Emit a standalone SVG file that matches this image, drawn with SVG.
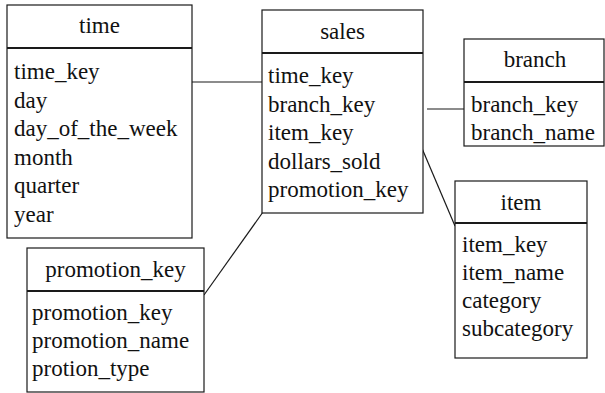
<svg xmlns="http://www.w3.org/2000/svg" width="605" height="393" viewBox="0 0 605 393">
  <style>
    .box { fill: #fff; stroke: #1a1a1a; stroke-width: 1.2; }
    .sep { stroke: #1a1a1a; stroke-width: 2; }
    .link { stroke: #1a1a1a; stroke-width: 1.2; fill: none; }
    text { font-family: "Liberation Serif", "Times New Roman", serif; font-size: 23px; fill: #111; }
    .title { text-anchor: middle; }
  </style>
  <rect width="605" height="393" fill="#fff"/>

  <!-- relationships between the fact table and its dimensions -->
  <g id="connectors">
    <line class="link" x1="192" y1="82" x2="262" y2="82"/>
    <line class="link" x1="427" y1="109" x2="464" y2="109"/>
    <line class="link" x1="421" y1="146" x2="455" y2="226"/>
    <line class="link" x1="204" y1="295" x2="263" y2="212"/>
  </g>

  <g id="time">
    <rect class="box" x="7" y="5" width="185" height="233"/>
    <line class="sep" x1="7" y1="48" x2="192" y2="48"/>
    <text class="title" x="99.5" y="33">time</text>
    <text x="14" y="79">time_key</text>
    <text x="14" y="107.5">day</text>
    <text x="14" y="136">day_of_the_week</text>
    <text x="14" y="164.5">month</text>
    <text x="14" y="193">quarter</text>
    <text x="14" y="221.5">year</text>
  </g>

  <g id="sales">
    <rect class="box" x="262" y="10" width="161" height="203"/>
    <line class="sep" x1="262" y1="53" x2="423" y2="53"/>
    <text class="title" x="342.5" y="39">sales</text>
    <text x="268" y="83">time_key</text>
    <text x="268" y="111.5">branch_key</text>
    <text x="268" y="140">item_key</text>
    <text x="268" y="168.5">dollars_sold</text>
    <text x="268" y="197">promotion_key</text>
  </g>

  <g id="branch">
    <rect class="box" x="464" y="39" width="140" height="107"/>
    <line class="sep" x1="464" y1="82" x2="604" y2="82"/>
    <text class="title" x="535" y="67">branch</text>
    <text x="471" y="111.5">branch_key</text>
    <text x="471" y="140">branch_name</text>
  </g>

  <g id="item">
    <rect class="box" x="455" y="181" width="132" height="177"/>
    <line class="sep" x1="455" y1="223" x2="587" y2="223"/>
    <text class="title" x="521" y="210">item</text>
    <text x="462" y="252">item_key</text>
    <text x="462" y="280">item_name</text>
    <text x="462" y="308">category</text>
    <text x="462" y="336">subcategory</text>
  </g>

  <g id="promotion">
    <rect class="box" x="27" y="248" width="177" height="144"/>
    <line class="sep" x1="27" y1="291" x2="204" y2="291"/>
    <text class="title" x="115.5" y="277">promotion_key</text>
    <text x="32" y="320">promotion_key</text>
    <text x="32" y="348">promotion_name</text>
    <text x="32" y="375.5">protion_type</text>
  </g>
</svg>
